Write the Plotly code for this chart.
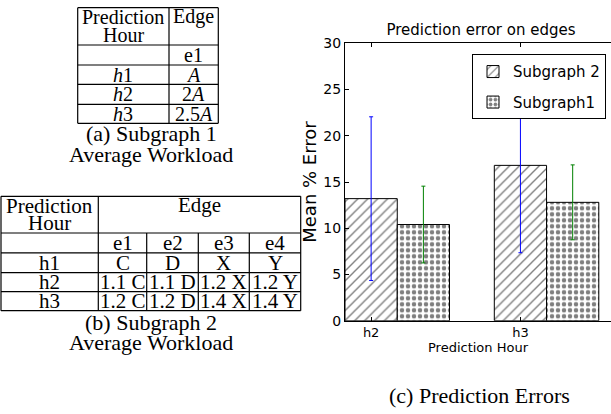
import plotly.graph_objects as go
import numpy as np

# ---------------- data ----------------
hours = ["h2", "h3"]
series_names = ["Subgraph 2", "Subgraph1"]
sg2_mean = [13.2, 16.8]
sg2_err = [8.85, 9.45]
sg1_mean = [10.4, 12.8]
sg1_err = [4.15, 4.05]

chart_title = "Prediction error on edges"
x_title = "Prediction Hour"
y_title = "Mean % Error"
y_ticks = [0, 5, 10, 15, 20, 25, 30]

tabA_header = ["Prediction", "Hour", "Edge"]
tabA_edges = ["e1"]
tabA_hours = ["<i>h</i>1", "<i>h</i>2", "<i>h</i>3"]
tabA_vals = ["<i>A</i>", "2<i>A</i>", "2.5<i>A</i>"]

tabB_header = ["Prediction", "Hour", "Edge"]
tabB_edges = ["e1", "e2", "e3", "e4"]
tabB_hours = ["h1", "h2", "h3"]
tabB_vals = [["C", "D", "X", "Y"],
             ["1.1 C", "1.1 D", "1.2 X", "1.2 Y"],
             ["1.2 C", "1.2 D", "1.4 X", "1.4 Y"]]

captions = [["(a) Subgraph 1", "Average Workload"],
            ["(b) Subgraph 2", "Average Workload"],
            ["(c) Prediction Errors"]]

# ---------------- layout helpers ----------------
W, H = 611, 414
SANS = "DejaVu Sans"
SERIF = "Liberation Serif, Times New Roman, serif"

def px(x):
    return x / W

def py(y):
    return 1 - y / H

shapes = []
annots = []

def line(x0, y0, x1, y1):
    shapes.append(dict(type="line", xref="paper", yref="paper",
                       x0=px(x0), y0=py(y0), x1=px(x1), y1=py(y1),
                       line=dict(color="black", width=1.2)))

def text(t, x, y, size, family=SERIF):
    annots.append(dict(text=t, x=px(x), y=py(y), xref="paper", yref="paper",
                       xanchor="center", yanchor="middle", showarrow=False,
                       font=dict(family=family, size=size, color="black")))

# ---------------- table (a) ----------------
a_cols = [77.7, 169, 218.3]
a_rows = [7.7, 45, 65, 84.3, 104.3, 123.3]
for r in a_rows:
    line(a_cols[0], r, a_cols[-1], r)
for c in a_cols:
    line(c, a_rows[0], c, a_rows[-1])
fa = 20
c0 = (a_cols[0] + a_cols[1]) / 2
c1 = (a_cols[1] + a_cols[2]) / 2
text(tabA_header[0], c0, 17, fa)
text(tabA_header[1], c0, 35, fa)
text(tabA_header[2], c1, 17, fa)
text(tabA_edges[0], c1, (a_rows[1] + a_rows[2]) / 2, fa)
for i, (h, v) in enumerate(zip(tabA_hours, tabA_vals)):
    yc = (a_rows[i + 2] + a_rows[i + 3]) / 2
    text(h, c0, yc, fa)
    text(v, c1, yc, fa)
text(captions[0][0], 151, 133.5, 22)
text(captions[0][1], 151, 154.5, 22)

# ---------------- table (b) ----------------
b_cols = [1, 98.3, 146.7, 198.3, 249.3, 300.7]
b_rows = [196.3, 233, 252.8, 272.7, 291.7, 310.7]
for r in b_rows:
    line(b_cols[0], r, b_cols[-1], r)
for j, c in enumerate(b_cols):
    top = b_rows[0] if j in (0, 1, len(b_cols) - 1) else b_rows[1]
    line(c, top, c, b_rows[-1])
fb = 21
bc0 = (b_cols[0] + b_cols[1]) / 2
text(tabB_header[0], bc0, 205.7, fb)
text(tabB_header[1], bc0, 223.3, fb)
text(tabB_header[2], (b_cols[1] + b_cols[-1]) / 2, 205, fb)
for j, e in enumerate(tabB_edges):
    text(e, (b_cols[j + 1] + b_cols[j + 2]) / 2, (b_rows[1] + b_rows[2]) / 2, fb)
for i, h in enumerate(tabB_hours):
    yc = (b_rows[i + 2] + b_rows[i + 3]) / 2
    text(h, bc0, yc, fb)
    for j, v in enumerate(tabB_vals[i]):
        text(v, (b_cols[j + 1] + b_cols[j + 2]) / 2, yc, fb)
text(captions[1][0], 151, 322.5, 22)
text(captions[1][1], 151, 342, 22)

# ---------------- chart (c) ----------------
text(captions[2][0], 479, 395, 22)

ind = np.arange(len(hours))
width = 0.35

fig = go.Figure()
fig.add_trace(go.Bar(
    x=ind + width / 2, y=sg2_mean, width=width, name=series_names[0],
    legendgroup="a",
    marker=dict(color="white", line=dict(color="black", width=1),
                pattern=dict(shape="/", fgcolor="black", bgcolor="white",
                             size=7, solidity=0.2)),
    error_y=dict(type="data", array=sg2_err, color="#0000ff",
                 thickness=1, width=2),
))
fig.add_trace(go.Bar(
    x=ind + 1.5 * width, y=sg1_mean, width=width, name=series_names[1],
    legendgroup="b",
    marker=dict(color="white", line=dict(color="black", width=1),
                pattern=dict(shape=".", fgcolor="black", bgcolor="white",
                             size=6, solidity=0.45)),
    error_y=dict(type="data", array=sg1_err, color="#008000",
                 thickness=1, width=2),
))

x_left, x_right = 345, 611
y_top, y_bot = 43.3, 320.7
unit_px = 149.3

fig.update_layout(
    width=W, height=H,
    margin=dict(l=0, r=0, t=0, b=0, autoexpand=False),
    paper_bgcolor="white", plot_bgcolor="white",
    barmode="overlay",
    shapes=shapes, annotations=annots,
    title=dict(text=chart_title, x=481 / W, xanchor="center", xref="paper",
               y=py(30), yanchor="middle", yref="paper",
               font=dict(family=SANS, size=15, color="black")),
    legend=dict(x=px(606), xanchor="right", y=py(54.3), yanchor="top",
                bgcolor="white", bordercolor="black", borderwidth=1,
                tracegroupgap=8,
                font=dict(family=SANS, size=15, color="black")),
    xaxis=dict(domain=[px(x_left), px(x_right)],
               range=[0, (x_right - x_left) / unit_px],
               tickvals=list(ind + width / 2), ticktext=hours,
               ticks="inside", ticklen=4, tickcolor="black",
               showline=True, linecolor="black", linewidth=1, mirror="ticks",
               showgrid=False, zeroline=False, automargin=False,
               tickfont=dict(family=SANS, size=13, color="black"),
               title=dict(text=x_title, standoff=2,
                          font=dict(family=SANS, size=13, color="black"))),
    yaxis=dict(domain=[py(y_bot), py(y_top)], range=[0, 30],
               tickvals=y_ticks,
               ticks="inside", ticklen=4, tickcolor="black",
               showline=True, linecolor="black", linewidth=1,
               showgrid=False, zeroline=False, automargin=False,
               tickfont=dict(family=SANS, size=14, color="black"),
               title=dict(text=y_title, standoff=2,
                          font=dict(family=SANS, size=18, color="black"))),
)

fig.write_html("out.html", config={"displayModeBar": False},
               post_script="document.body.style.margin='0px';")
